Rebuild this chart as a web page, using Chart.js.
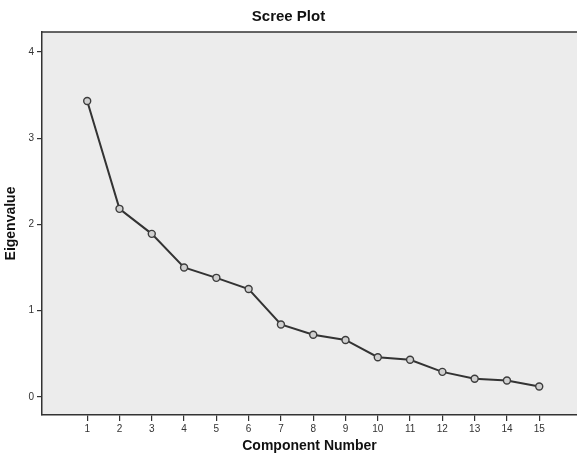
<!DOCTYPE html>
<html>
<head>
<meta charset="utf-8">
<script src="https://cdn.jsdelivr.net/npm/chart.js@4/dist/chart.umd.min.js"></script>
<style>
    html, body { margin: 0; padding: 0; background: #ffffff; overflow: hidden; }
    #chart { display: block; }
</style>
</head>
<body>
<canvas id="chart" width="577" height="457"></canvas>
<script>
// Scree plot data
const components = [1, 2, 3, 4, 5, 6, 7, 8, 9, 10, 11, 12, 13, 14, 15];
const eigenvalues = [3.43, 2.18, 1.89, 1.50, 1.38, 1.25, 0.84, 0.72, 0.66, 0.46, 0.43, 0.29, 0.21, 0.19, 0.12];
const yTicks = [0, 1, 2, 3, 4];

const ink = '#333333';
const fontFamily = '"Liberation Sans", Arial, sans-serif';

// Gray plot background + top frame line
const plotFrame = {
    id: 'plotFrame',
    beforeDraw(chart) {
        const { ctx, chartArea: a } = chart;
        ctx.save();
        ctx.fillStyle = '#ececec';
        ctx.fillRect(a.left, a.top, a.right - a.left, a.bottom - a.top);
        ctx.restore();
    },
    afterDraw(chart) {
        const { ctx, chartArea: a } = chart;
        ctx.save();
        ctx.strokeStyle = ink;
        ctx.lineWidth = 1.5;
        ctx.beginPath();
        ctx.moveTo(a.left, a.top);
        ctx.lineTo(a.right, a.top);
        ctx.stroke();
        ctx.restore();
    }
};

const ctx = document.getElementById('chart').getContext('2d');
new Chart(ctx, {
    type: 'line',
    data: {
        datasets: [{
            data: components.map((c, i) => ({ x: c, y: eigenvalues[i] })),
            borderColor: '#333333',
            borderWidth: 2,
            pointRadius: 3.5,
            pointBackgroundColor: '#d0d0d0',
            pointBorderColor: '#3c3c3c',
            pointBorderWidth: 1.4,
            tension: 0
        }]
    },
    options: {
        responsive: false,
        animation: false,
        layout: { padding: 0, autoPadding: false },
        plugins: {
            legend: { display: false },
            tooltip: { enabled: false },
            title: {
                display: true,
                text: 'Scree Plot',
                color: '#111111',
                font: { family: fontFamily, size: 15, weight: 'bold' },
                padding: { top: 8, bottom: 6 }
            }
        },
        scales: {
            x: {
                type: 'linear',
                min: -0.4,
                max: 16.17,
                afterBuildTicks: scale => {
                    scale.ticks = components.map(v => ({ value: v }));
                },
                afterFit: scale => {
                    scale.height = 42;
                    scale.paddingLeft = 0;
                    scale.paddingRight = 0;
                },
                ticks: {
                    color: ink,
                    font: { family: fontFamily, size: 10 },
                    padding: 2,
                    maxRotation: 0,
                    autoSkip: false
                },
                grid: {
                    drawOnChartArea: false,
                    drawTicks: true,
                    tickLength: 6,
                    color: ink,
                    lineWidth: 1.2
                },
                border: { display: true, color: ink, width: 1.5 },
                title: {
                    display: true,
                    text: 'Component Number',
                    color: '#111111',
                    font: { family: fontFamily, size: 14, weight: 'bold' },
                    padding: { top: 0, bottom: 2 }
                }
            },
            y: {
                type: 'linear',
                min: -0.21,
                max: 4.23,
                afterBuildTicks: scale => {
                    scale.ticks = yTicks.map(v => ({ value: v }));
                },
                afterFit: scale => {
                    scale.width = 42;
                    scale.paddingTop = 0;
                    scale.paddingBottom = 0;
                },
                ticks: {
                    color: ink,
                    font: { family: fontFamily, size: 10 },
                    padding: 3
                },
                grid: {
                    drawOnChartArea: false,
                    drawTicks: true,
                    tickLength: 5,
                    color: ink,
                    lineWidth: 1.2
                },
                border: { display: true, color: ink, width: 1.5 },
                title: {
                    display: true,
                    text: 'Eigenvalue',
                    color: '#111111',
                    font: { family: fontFamily, size: 14, weight: 'bold' },
                    padding: { top: 3, bottom: 0 }
                }
            }
        }
    },
    plugins: [plotFrame]
});
</script>
</body>
</html>
